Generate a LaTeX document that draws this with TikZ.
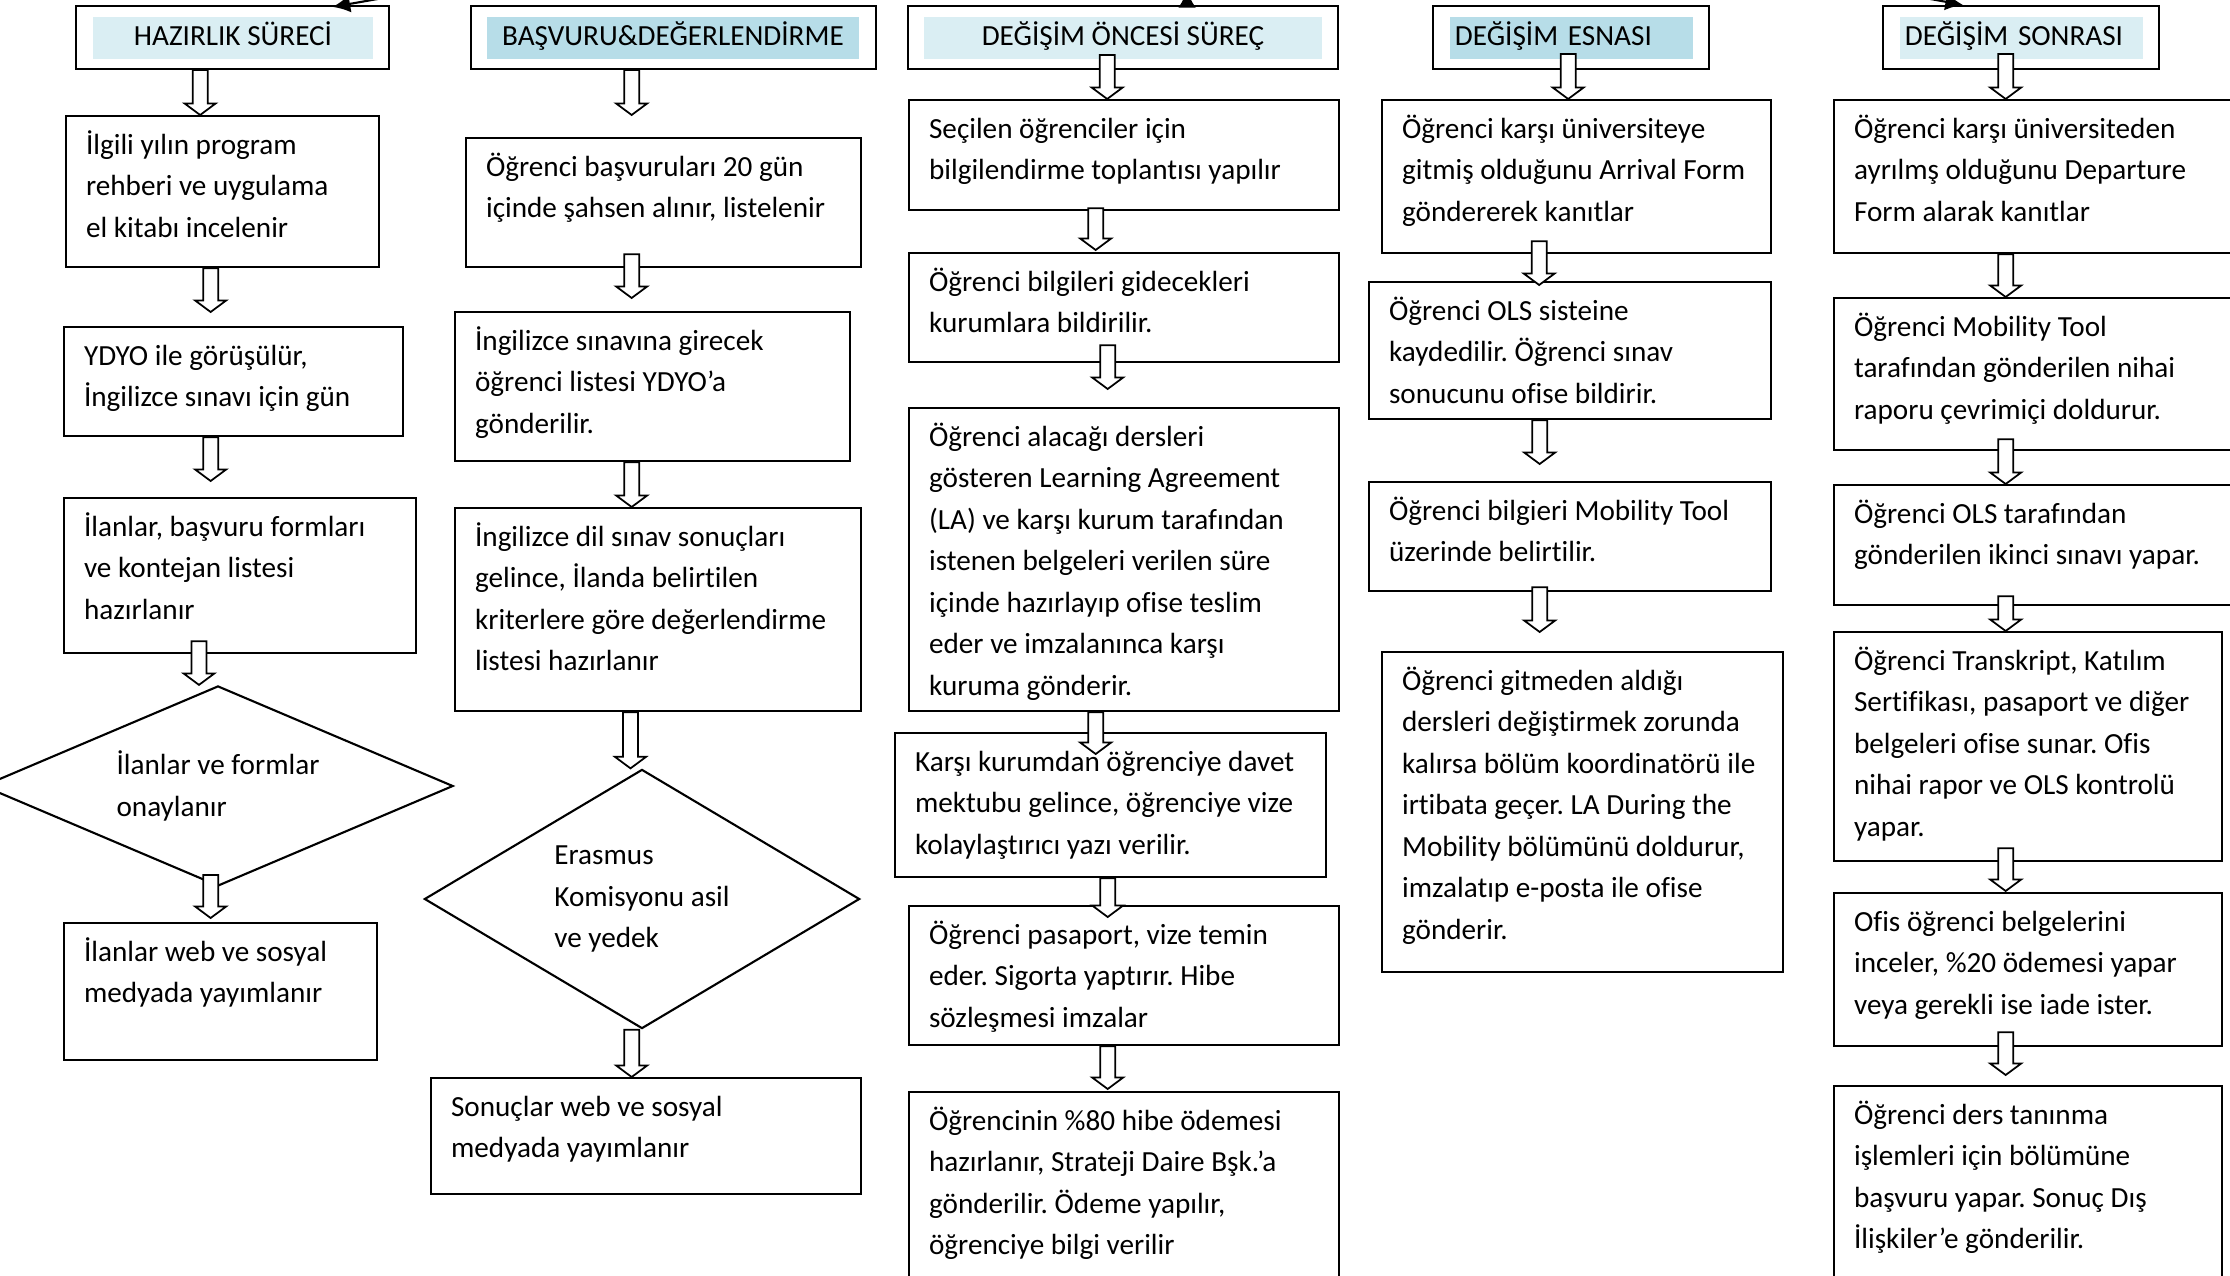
\documentclass[tikz,border=0pt]{standalone}
\usepackage{fontspec}
\setmainfont{Carlito}[Ligatures=NoCommon]
\usetikzlibrary{arrows.meta,shapes.geometric,calc}
\definecolor{hdrlight}{HTML}{DAEEF3}
\definecolor{hdrdark}{HTML}{B7DDE8}
\frenchspacing
% box text: width, height, lines
\newcommand{\boxtxt}[3]{\parbox[t][#2][t]{#1}{\raggedright\leftskip=0.2cm\rule{0pt}{0.92\baselineskip}#3}}
% hollow block arrow from start (#1) down to tip (#2)
\newcommand{\blockarrow}[2]{%
  \path[blk] let \p1=#1, \p2=#2 in
    (\x2-0.075cm,\y1) -- (\x2-0.075cm,\y2+0.115cm) -- (\x2-0.155cm,\y2+0.115cm)
    -- (\x2,\y2) -- (\x2+0.155cm,\y2+0.115cm) -- (\x2+0.075cm,\y2+0.115cm)
    -- (\x2+0.075cm,\y1) -- cycle;}
\begin{document}
\begin{tikzpicture}[x=0.01cm,y=-0.01cm,
  every node/.style={font=\fontsize{8.3}{11.8}\selectfont},
  hdr/.style={draw,line width=0.6pt,inner sep=0pt,minimum height=0.63cm},
  hdrfill/.style={inner sep=0pt,minimum height=0.42cm,text height=0.2cm,text depth=0.05cm},
  stepbox/.style={draw,line width=0.6pt,inner sep=0pt,anchor=north west},
  dec/.style={diamond,draw,line width=0.6pt,inner sep=0pt,align=left},
  blk/.style={draw,fill=white,line width=0.5pt},
  lnk/.style={-{Latex[length=5pt,width=5pt]},line width=0.6pt}]
\useasboundingbox (0,0) rectangle (2230,1276);
\clip (0,0) rectangle (2230,1276);

% headers
\node[hdr,minimum width=3.13cm] (h1) at (232.5,37.5) {};
\node[hdrfill,fill=hdrlight,minimum width=2.80cm] (h1f) at (233,38) {HAZIRLIK SÜRECİ};
\node[hdr,minimum width=4.05cm] (h2) at (673.5,37.5) {};
\node[hdrfill,fill=hdrdark,minimum width=3.72cm] (h2f) at (673,38) {BAŞVURU\&DEĞERLENDİRME};
\node[hdr,minimum width=4.30cm] (h3) at (1123,37.5) {};
\node[hdrfill,fill=hdrlight,minimum width=3.98cm] (h3f) at (1123,38) {DEĞİŞİM ÖNCESİ SÜREÇ};
\node[hdr,minimum width=2.76cm] (h4) at (1571,37.5) {};
\node[hdrfill,fill=hdrdark,text width=2.33cm,inner xsep=0.05cm,align=left] (h4f) at (1571.5,38) {DEĞİŞİM ESNASI};
\node[hdr,minimum width=2.76cm] (h5) at (2021,37.5) {};
\node[hdrfill,fill=hdrlight,text width=2.33cm,inner xsep=0.05cm,align=left] (h5f) at (2021.5,38) {DEĞİŞİM SONRASI};

% column 1
\node[stepbox] (c1b1) at (65,115) {\boxtxt{3.13cm}{1.51cm}{İlgili yılın program\\rehberi ve uygulama\\el kitabı incelenir}};
\node[stepbox] (c1b2) at (63,326) {\boxtxt{3.39cm}{1.09cm}{YDYO ile görüşülür,\\İngilizce sınavı için gün}};
\node[stepbox] (c1b3) at (63,497) {\boxtxt{3.52cm}{1.55cm}{İlanlar, başvuru formları\\ve kontejan listesi\\hazırlanır}};
\node[dec,minimum width=4.70cm,minimum height=2.00cm,aspect=2.35] (c1d) at (218,786) {İlanlar ve formlar\\onaylanır};
\node[stepbox] (c1b4) at (63,922) {\boxtxt{3.13cm}{1.37cm}{İlanlar web ve sosyal\\medyada yayımlanır}};

% column 2
\node[stepbox] (c2b1) at (465,137) {\boxtxt{3.95cm}{1.29cm}{Öğrenci başvuruları 20 gün\\içinde şahsen alınır, listelenir}};
\node[stepbox] (c2b2) at (454,311) {\boxtxt{3.95cm}{1.49cm}{İngilizce sınavına girecek\\öğrenci listesi YDYO’a\\gönderilir.}};
\node[stepbox] (c2b3) at (454,507) {\boxtxt{4.06cm}{2.03cm}{İngilizce dil sınav sonuçları\\gelince, İlanda belirtilen\\kriterlere göre değerlendirme\\listesi hazırlanır}};
\node[dec,minimum width=4.35cm,minimum height=2.59cm,aspect=1.68] (c2d) at (642,899) {Erasmus\\Komisyonu asil\\ve yedek\hspace{0.3cm}};
\node[stepbox] (c2b4) at (430,1077) {\boxtxt{4.30cm}{1.16cm}{Sonuçlar web ve sosyal\\medyada yayımlanır}};

% column 3
\node[stepbox] (c3b1) at (908,99) {\boxtxt{4.30cm}{1.10cm}{Seçilen öğrenciler için\\bilgilendirme toplantısı yapılır}};
\node[stepbox] (c3b2) at (908,252) {\boxtxt{4.30cm}{1.09cm}{Öğrenci bilgileri gidecekleri\\kurumlara bildirilir.}};
\node[stepbox] (c3b3) at (908,407) {\boxtxt{4.30cm}{3.03cm}{Öğrenci alacağı dersleri\\gösteren Learning Agreement\\(LA) ve karşı kurum tarafından\\istenen belgeleri verilen süre\\içinde hazırlayıp ofise teslim\\eder ve imzalanınca karşı\\kuruma gönderir.}};
\node[stepbox] (c3b4) at (894,732) {\boxtxt{4.31cm}{1.44cm}{Karşı kurumdan öğrenciye davet\\mektubu gelince, öğrenciye vize\\kolaylaştırıcı yazı verilir.}};
\node[stepbox] (c3b5) at (908,905) {\boxtxt{4.30cm}{1.39cm}{Öğrenci pasaport, vize temin\\eder. Sigorta yaptırır. Hibe\\sözleşmesi imzalar}};
\node[stepbox] (c3b6) at (908,1091) {\boxtxt{4.30cm}{2.20cm}{Öğrencinin \%80 hibe ödemesi\\hazırlanır, Strateji Daire Bşk.’a\\gönderilir. Ödeme yapılır,\\öğrenciye bilgi verilir}};

% column 4
\node[stepbox] (c4b1) at (1381,99) {\boxtxt{3.89cm}{1.53cm}{Öğrenci karşı üniversiteye\\gitmiş olduğunu Arrival Form\\göndererek kanıtlar}};
\node[stepbox] (c4b2) at (1368,281) {\boxtxt{4.02cm}{1.37cm}{Öğrenci OLS sisteine\\kaydedilir. Öğrenci sınav\\sonucunu ofise bildirir.}};
\node[stepbox] (c4b3) at (1368,481) {\boxtxt{4.02cm}{1.09cm}{Öğrenci bilgieri Mobility Tool\\üzerinde belirtilir.}};
\node[stepbox] (c4b4) at (1381,651) {\boxtxt{4.01cm}{3.20cm}{Öğrenci gitmeden aldığı\\dersleri değiştirmek zorunda\\kalırsa bölüm koordinatörü ile\\irtibata geçer. LA During the\\Mobility bölümünü doldurur,\\imzalatıp e-posta ile ofise\\gönderir.}};

% column 5
\node[stepbox] (c5b1) at (1833,99) {\boxtxt{4.07cm}{1.53cm}{Öğrenci karşı üniversiteden\\ayrılmş olduğunu Departure\\Form alarak kanıtlar}};
\node[stepbox] (c5b2) at (1833,297) {\boxtxt{4.07cm}{1.52cm}{Öğrenci Mobility Tool\\tarafından gönderilen nihai\\raporu çevrimiçi doldurur.}};
\node[stepbox] (c5b3) at (1833,484) {\boxtxt{4.07cm}{1.20cm}{Öğrenci OLS tarafından\\gönderilen ikinci sınavı yapar.}};
\node[stepbox] (c5b4) at (1833,631) {\boxtxt{3.88cm}{2.29cm}{Öğrenci Transkript, Katılım\\Sertifikası, pasaport ve diğer\\belgeleri ofise sunar. Ofis\\nihai rapor ve OLS kontrolü\\yapar.}};
\node[stepbox] (c5b5) at (1833,892) {\boxtxt{3.88cm}{1.53cm}{Ofis öğrenci belgelerini\\inceler, \%20 ödemesi yapar\\veya gerekli ise iade ister.}};
\node[stepbox] (c5b6) at (1833,1085) {\boxtxt{3.88cm}{2.20cm}{Öğrenci ders tanınma\\işlemleri için bölümüne\\başvuru yapar. Sonuç Dış\\İlişkiler’e gönderilir.}};

% block arrows
\blockarrow{(h1.south)}{([xshift=-0.225cm]c1b1.north)}
\blockarrow{(c1b1.south)}{([xshift=-0.23cm,yshift=0.14cm]c1b2.north)}
\blockarrow{(c1b2.south)}{([xshift=-0.295cm,yshift=0.16cm]c1b3.north)}
\blockarrow{([yshift=0.13cm]c1b3.south)}{([xshift=-0.19cm]c1d.north)}
\blockarrow{([yshift=0.12cm]c1d.south)}{([xshift=-0.10cm,yshift=0.04cm]c1b4.north)}

\blockarrow{(h2.south)}{([xshift=-0.32cm,yshift=0.22cm]c2b1.north)}
\blockarrow{([yshift=0.14cm]c2b1.south)}{([xshift=-0.21cm,yshift=0.13cm]c2b2.north)}
\blockarrow{(c2b2.south)}{([xshift=-0.265cm]c2b3.north)}
\blockarrow{(c2b3.south)}{([xshift=-0.115cm]c2d.north)}
\blockarrow{(c2d.south)}{([xshift=-0.145cm]c2b4.north)}

\blockarrow{([yshift=0.15cm]h3.south)}{([xshift=-0.17cm]c3b1.north)}
\blockarrow{([yshift=0.03cm]c3b1.south)}{([xshift=-0.285cm,yshift=0.02cm]c3b2.north)}
\blockarrow{([yshift=0.18cm]c3b2.south)}{([xshift=-0.165cm,yshift=0.18cm]c3b3.north)}
\blockarrow{(c3b3.south)}{([xshift=-0.15cm,yshift=-0.22cm]c3b4.north)}
\blockarrow{(c3b4.south)}{([xshift=-0.165cm,yshift=-0.12cm]c3b5.north)}
\blockarrow{(c3b5.south)}{([xshift=-0.165cm,yshift=0.02cm]c3b6.north)}

\blockarrow{([yshift=0.16cm]h4.south)}{([xshift=-0.085cm]c4b1.north)}
\blockarrow{([yshift=0.13cm]c4b1.south)}{([xshift=-0.31cm,yshift=-0.04cm]c4b2.north)}
\blockarrow{(c4b2.south)}{([xshift=-0.305cm,yshift=0.17cm]c4b3.north)}
\blockarrow{([yshift=0.05cm]c4b3.south)}{([xshift=-0.43cm,yshift=0.19cm]c4b4.north)}

\blockarrow{([yshift=0.16cm]h5.south)}{([xshift=-0.32cm]c5b1.north)}
\blockarrow{(c5b1.south)}{([xshift=-0.32cm]c5b2.north)}
\blockarrow{([yshift=0.12cm]c5b2.south)}{([xshift=-0.32cm]c5b3.north)}
\blockarrow{([yshift=0.10cm]c5b3.south)}{([xshift=-0.225cm]c5b4.north)}
\blockarrow{([yshift=0.14cm]c5b4.south)}{([xshift=-0.225cm,yshift=0.01cm]c5b5.north)}
\blockarrow{([yshift=0.15cm]c5b5.south)}{([xshift=-0.225cm,yshift=0.10cm]c5b6.north)}

% links to the title above (cut off)
\coordinate (tl) at (440,-12);
\coordinate (tr) at (1870,-12);
\coordinate (tc) at (1187,-10);
\draw[lnk] (tl) -- ([xshift=1.0cm,yshift=-0.02cm]h1.north);
\draw[lnk] (tr) -- ([xshift=-0.58cm]h5.north);
\draw[lnk] ([xshift=0.64cm]h3.north) -- (tc);
\end{tikzpicture}
\end{document}
